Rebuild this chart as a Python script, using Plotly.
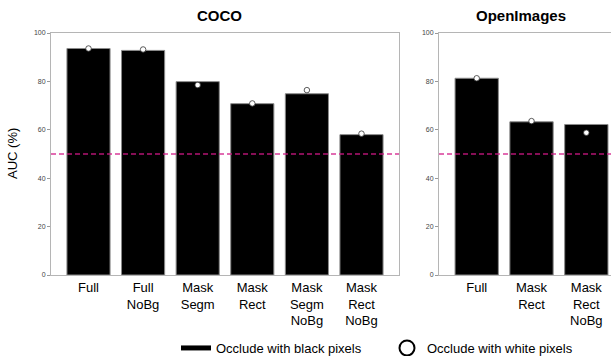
import plotly.graph_objects as go

coco_cats = ["Full", "Full<br>NoBg", "Mask<br>Segm", "Mask<br>Rect", "Mask<br>Segm<br>NoBg", "Mask<br>Rect<br>NoBg"]
coco_black = [93.6, 92.8, 79.9, 70.8, 74.9, 58.0]
coco_white = [93.6, 93.2, 78.5, 70.9, 76.4, 58.4]

oi_cats = ["Full", "Mask<br>Rect", "Mask<br>Rect<br>NoBg"]
oi_black = [81.3, 63.3, 62.2]
oi_white = [81.3, 63.6, 58.8]

chance = 50
yticks = [0, 20, 40, 60, 80, 100]

FONT = "Liberation Sans, Arial, Helvetica, sans-serif"

fig = go.Figure()

# COCO
fig.add_trace(go.Bar(x=list(range(len(coco_cats))), y=coco_black, marker=dict(color="black", line=dict(color="#8a8a8a", width=1)),
                     xaxis="x", yaxis="y", showlegend=False, width=0.79))
fig.add_trace(go.Scatter(x=list(range(len(coco_cats))), y=coco_white, mode="markers",
                         marker=dict(symbol="circle", color="white", size=5.5, line=dict(color="#333", width=0.8)),
                         xaxis="x", yaxis="y", showlegend=False))
# OpenImages
fig.add_trace(go.Bar(x=list(range(len(oi_cats))), y=oi_black, marker=dict(color="black", line=dict(color="#8a8a8a", width=1)),
                     xaxis="x2", yaxis="y2", showlegend=False, width=0.79))
fig.add_trace(go.Scatter(x=list(range(len(oi_cats))), y=oi_white, mode="markers",
                         marker=dict(symbol="circle", color="white", size=5.5, line=dict(color="#333", width=0.8)),
                         xaxis="x2", yaxis="y2", showlegend=False))

# legend entries
fig.add_trace(go.Scatter(x=[None], y=[None], mode="lines", line=dict(color="black", width=5),
                         name="Occlude with black pixels", xaxis="x", yaxis="y"))
fig.add_trace(go.Scatter(x=[None], y=[None], mode="markers",
                         marker=dict(symbol="circle-open", color="black", size=15, line=dict(width=2, color="black")),
                         name="Occlude with white pixels", xaxis="x", yaxis="y"))

W, H = 611, 356
T, B = 33, 81
x1 = (51 / W, 399 / W)
x2 = (439 / W, 1.0)
plot_h = H - T - B

common_y = dict(range=[0, 100], tickvals=yticks, ticks="outside", ticklen=3, tickcolor="#999",
                tickfont=dict(size=7, color="#444", family=FONT), showgrid=False, zeroline=False,
                showline=True, linecolor="#b5b5b5", linewidth=1)
common_x = dict(showgrid=False, zeroline=False, showline=True, linecolor="#b5b5b5", linewidth=1, mirror=True,
                ticks="", tickfont=dict(size=13, color="black", family=FONT))

fig.update_layout(
    width=W, height=H,
    margin=dict(l=0, r=0, t=T, b=B, autoexpand=False),
    plot_bgcolor="white", paper_bgcolor="white",
    font=dict(family=FONT, color="black"),
    xaxis=dict(domain=list(x1), range=[-0.687, 5.687], tickvals=list(range(len(coco_cats))), ticktext=coco_cats, **common_x),
    yaxis=dict(domain=[0, 1], anchor="x", mirror=True, **common_y),
    xaxis2=dict(domain=list(x2), range=[-0.688, 2.45], tickvals=list(range(len(oi_cats))), ticktext=oi_cats, anchor="y2", **common_x),
    yaxis2=dict(domain=[0, 1], anchor="x2", mirror=False, **common_y),
    bargap=0.21,
    showlegend=True,
    legend=dict(orientation="h", x=176 / W, xanchor="left", y=-(348 - (H - B)) / plot_h, yanchor="middle",
                font=dict(size=13, family=FONT), entrywidth=166, entrywidthmode="pixels",
                itemsizing="trace", bgcolor="rgba(0,0,0,0)"),
    annotations=[
        dict(text="<b>COCO</b>", x=219.5 / W, y=1 + (T - 15) / plot_h, xref="paper", yref="paper",
             xanchor="center", yanchor="middle", showarrow=False, font=dict(size=15, family=FONT)),
        dict(text="<b>OpenImages</b>", x=521 / W, y=1 + (T - 15) / plot_h, xref="paper", yref="paper",
             xanchor="center", yanchor="middle", showarrow=False, font=dict(size=15, family=FONT)),
        dict(text="AUC (%)", x=12 / W, y=0.5, xref="paper", yref="paper", textangle=-90,
             xanchor="center", yanchor="middle", showarrow=False, font=dict(size=13, family=FONT)),
    ],
    shapes=[
        dict(type="line", xref="x domain", yref="y", x0=0, x1=1, y0=chance, y1=chance,
             line=dict(color="rgba(210,25,135,0.85)", width=1.5, dash="5px,3px"), layer="above"),
        dict(type="line", xref="x2 domain", yref="y2", x0=0, x1=1, y0=chance, y1=chance,
             line=dict(color="rgba(210,25,135,0.85)", width=1.5, dash="5px,3px"), layer="above"),
    ],
)

fig.write_html("out.html", config={"displayModeBar": False},
               post_script="document.body.style.margin='0';document.body.style.overflow='hidden';")
